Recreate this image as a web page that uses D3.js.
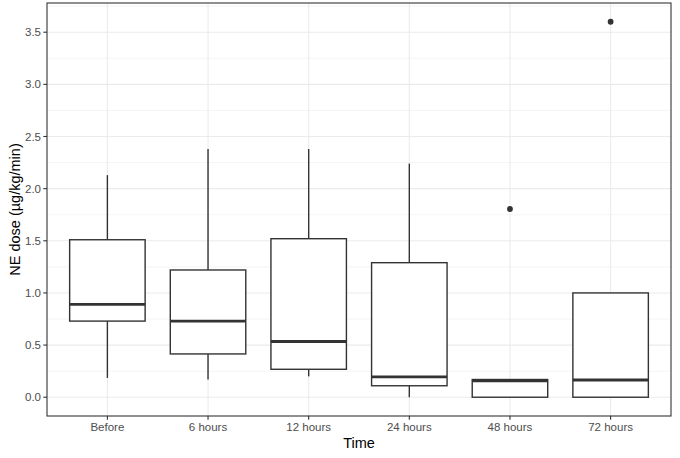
<!DOCTYPE html>
<html>
<head>
<meta charset="utf-8">
<script src="https://cdn.jsdelivr.net/npm/d3@7"></script>
<style>
  body { margin: 0; background: #fff; }
  text { font-family: "Liberation Sans", Arial, sans-serif; }
</style>
</head>
<body>
<div id="chart"></div>
<script>
// Box statistics
const times = ["Before", "6 hours", "12 hours", "24 hours", "48 hours", "72 hours"];
const whiskerLow = [0.185, 0.17, 0.2, 0.0, 0.0, 0.0];
const q1 = [0.73, 0.415, 0.268, 0.11, 0.0, 0.0];
const median = [0.89, 0.73, 0.535, 0.195, 0.158, 0.165];
const q3 = [1.51, 1.22, 1.52, 1.29, 0.17, 1.0];
const whiskerHigh = [2.13, 2.38, 2.38, 2.24, 0.17, 1.0];
const outliers = [[], [], [], [], [1.805], [3.6]];
const yTicks = [0, 0.5, 1, 1.5, 2, 2.5, 3, 3.5];

const width = 680, height = 458;
const margin = { top: 3, right: 9, bottom: 42, left: 47 };
const pw = width - margin.left - margin.right;
const ph = height - margin.top - margin.bottom;

const svg = d3.select("#chart").append("svg")
  .attr("width", width).attr("height", height);
const g = svg.append("g")
  .attr("transform", `translate(${margin.left},${margin.top})`);

// ggplot-like expansion: 5% on continuous, 0.6 on discrete
const yMin = 0, yMax = 3.6, pad = (yMax - yMin) * 0.05;
const y = d3.scaleLinear().domain([yMin - pad, yMax + pad]).range([ph, 0]);
const x = d3.scaleLinear().domain([0.4, times.length + 0.6]).range([0, pw]);
const step = x(2) - x(1);
const boxW = step * 0.75;

// grid
const minor = d3.range(0.25, 3.8, 0.5);
g.selectAll("line.minor").data(minor).enter().append("line")
  .attr("x1", 0).attr("x2", pw)
  .attr("y1", d => y(d)).attr("y2", d => y(d))
  .attr("stroke", "#ebebeb").attr("stroke-width", 0.55);
g.selectAll("line.major").data(yTicks).enter().append("line")
  .attr("x1", 0).attr("x2", pw)
  .attr("y1", d => y(d)).attr("y2", d => y(d))
  .attr("stroke", "#ebebeb").attr("stroke-width", 1.1);
g.selectAll("line.vmajor").data(times).enter().append("line")
  .attr("x1", (d, i) => x(i + 1)).attr("x2", (d, i) => x(i + 1))
  .attr("y1", 0).attr("y2", ph)
  .attr("stroke", "#ebebeb").attr("stroke-width", 1.1);

// boxes
const boxes = g.selectAll("g.box").data(times).enter().append("g")
  .attr("class", "box");
const col = "#333333";
boxes.append("line")
  .attr("x1", (d, i) => x(i + 1)).attr("x2", (d, i) => x(i + 1))
  .attr("y1", (d, i) => y(q3[i])).attr("y2", (d, i) => y(whiskerHigh[i]))
  .attr("stroke", col).attr("stroke-width", 1.4);
boxes.append("line")
  .attr("x1", (d, i) => x(i + 1)).attr("x2", (d, i) => x(i + 1))
  .attr("y1", (d, i) => y(q1[i])).attr("y2", (d, i) => y(whiskerLow[i]))
  .attr("stroke", col).attr("stroke-width", 1.4);
boxes.append("rect")
  .attr("x", (d, i) => x(i + 1) - boxW / 2)
  .attr("width", boxW)
  .attr("y", (d, i) => y(q3[i]))
  .attr("height", (d, i) => y(q1[i]) - y(q3[i]))
  .attr("fill", "#fff").attr("stroke", col).attr("stroke-width", 1.4);
boxes.append("line")
  .attr("x1", (d, i) => x(i + 1) - boxW / 2).attr("x2", (d, i) => x(i + 1) + boxW / 2)
  .attr("y1", (d, i) => y(median[i])).attr("y2", (d, i) => y(median[i]))
  .attr("stroke", col).attr("stroke-width", 2.9);
boxes.each(function (d, i) {
  d3.select(this).selectAll("circle").data(outliers[i]).enter().append("circle")
    .attr("cx", x(i + 1)).attr("cy", v => y(v))
    .attr("r", 2.9).attr("fill", col);
});

// panel border
g.append("rect").attr("width", pw).attr("height", ph)
  .attr("fill", "none").attr("stroke", col).attr("stroke-width", 1.1);

// axes
g.selectAll("line.ytick").data(yTicks).enter().append("line")
  .attr("x1", -3.7).attr("x2", 0)
  .attr("y1", d => y(d)).attr("y2", d => y(d))
  .attr("stroke", col).attr("stroke-width", 1.1);
g.selectAll("text.ylab").data(yTicks).enter().append("text")
  .attr("x", -6).attr("y", d => y(d)).attr("dy", "0.35em")
  .attr("text-anchor", "end").attr("font-size", 11.5).attr("fill", "#4d4d4d")
  .text(d => d3.format(".1f")(d));
g.selectAll("line.xtick").data(times).enter().append("line")
  .attr("x1", (d, i) => x(i + 1)).attr("x2", (d, i) => x(i + 1))
  .attr("y1", ph).attr("y2", ph + 3.7)
  .attr("stroke", col).attr("stroke-width", 1.1);
g.selectAll("text.xlab").data(times).enter().append("text")
  .attr("x", (d, i) => x(i + 1)).attr("y", ph + 15)
  .attr("text-anchor", "middle").attr("font-size", 11.5).attr("fill", "#4d4d4d")
  .text(d => d);

// titles
svg.append("text")
  .attr("x", margin.left + pw / 2).attr("y", height - 10)
  .attr("text-anchor", "middle").attr("font-size", 14.5).attr("fill", "#000")
  .text("Time");
svg.append("text")
  .attr("transform", `translate(20,${margin.top + ph / 2}) rotate(-90)`)
  .attr("text-anchor", "middle").attr("font-size", 14.5).attr("fill", "#000")
  .text("NE dose (µg/kg/min)");
</script>
</body>
</html>
